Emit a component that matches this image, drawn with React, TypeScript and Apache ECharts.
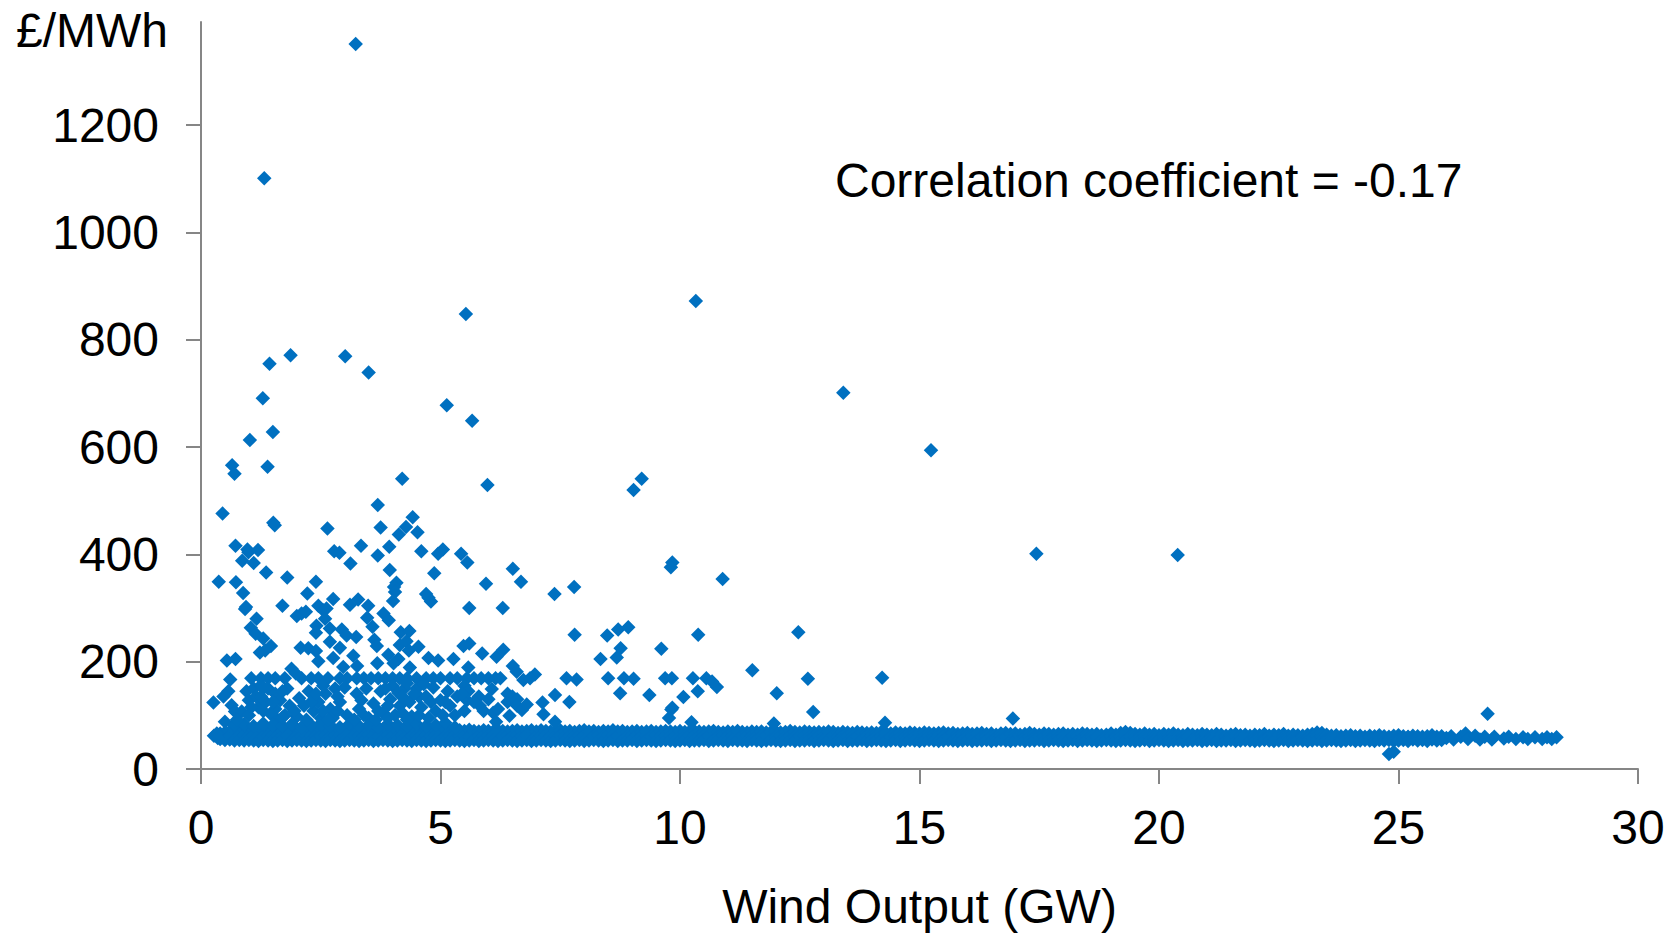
import React, { useEffect, useRef } from "react";
import * as echarts from "echarts";

const xTicks = [0, 5, 10, 15, 20, 25, 30];
const yTicks = [0, 200, 400, 600, 800, 1000, 1200];
const xTitle = "Wind Output (GW)";
const yTitle = "£/MWh";
const note = "Correlation coefficient = -0.17";

const highPrices: number[][] = [
  [3.23,1351],[1.32,1101],[10.33,872],[5.53,848],[1.87,771],[3.01,769],[1.43,755],[3.5,739],[1.29,691],[5.13,678],[5.66,649],[13.41,701],[15.24,594],[17.44,401],[20.39,399],[9.84,385],[9.81,376],[10.89,354],
  [12.47,255],[10.38,250],[9.61,224],[11.51,184],[12.02,141],[12.67,168],[12.78,106],[14.22,170],[14.28,86],[16.95,94],[26.86,103],[24.8,28],[24.9,32],
  [1.02,613],[1.5,628],[0.65,566],[0.7,550],[1.39,563],[0.45,476],[1.51,459],[1.54,454],[2.64,448],[4.2,541],[3.69,492],[3.75,450],[4.28,451],[4.42,469],[4.13,437],[4.52,441],[5.98,529],[9.03,520],[9.2,541],
  [0.72,416],[0.97,409],[0.99,404],[1.19,408],[0.86,388],[1.1,384],[1.36,366],[1.8,357],[0.37,349],[0.73,348],[0.88,328],[0.94,302],[0.92,298],[1.7,304],[2.4,349],[2.22,327],[2.76,317],
  [2.78,406],[2.89,403],[3.34,416],[3.12,383],[3.69,398],[3.93,414],[3.94,371],[4.08,347],[4.03,339],[4.05,330],[4.01,313],[4.6,406],[4.95,401],[5.05,409],[5.43,401],[5.56,385],[4.87,365],
  [6.51,373],[6.68,349],[5.95,345],[5.6,300],[6.3,300],[7.38,326],[7.79,339],[7.8,250],[8.48,249],[8.71,260],[8.92,264],[8.76,225],[8.68,208],[8.34,205],[4.7,326],[4.75,319],[4.8,312],
  [3.11,306],[3.28,316],[3.49,304],[3.47,282],[3.58,265],[3.81,290],[3.92,277],[2.45,304],[2.55,296],[2.62,299],[2.59,280],[2.69,262],[2.41,267],[2.4,254],[2.94,260],[3.04,249],[3.24,246],[2.69,237],[2.9,226],[2.76,207],[3.18,211],[2.97,190],[3.26,192],[3.68,197],
  [3.62,241],[3.67,229],[4.17,255],[4.35,257],[4.15,231],[4.29,238],[4.54,228],[4.34,221],[3.91,213],[4.12,205],[4.02,197],[4.36,189],[4.75,207],[4.95,202],[5.27,205],[5.48,229],[5.6,234],[5.87,215],[6.17,209],[6.31,222],[5.58,189],[6.51,192],[6.59,181],[6.97,176],[6.73,166],[6.87,169],
  [2.0,285],[2.1,290],[2.19,293],[2.08,226],[2.24,225],[2.4,220],[2.45,201],[1.89,187],[1.98,178],[1.16,280],[1.04,263],[1.14,252],[1.3,243],[1.46,229],[1.34,221],[1.23,217],[0.54,202],[0.72,205],[0.61,167],
  [7.63,169],[7.84,167],[8.5,169],[8.83,169],[9.03,168],[8.75,141],[7.39,138],[7.69,125],[7.13,124],[7.15,102],[7.39,88],[6.44,99],[6.07,149],[6.16,88],
  [9.69,169],[9.83,169],[10.27,169],[10.55,169],[10.67,163],[10.77,153],[10.37,145],[10.07,134],[9.36,138],[9.84,114],[9.82,111],[9.77,95],[10.24,87],[11.96,85],
];

const flatLine169: number[] = [1.05,1.25,1.4,1.55,1.75,2.1,2.3,2.45,2.65,2.9,3.05,3.25,3.4,3.55,3.7,3.85,4.0,4.15,4.3,4.5,4.7,4.85,5.0,5.2,5.35,5.55,5.7,5.85,6.0,6.15,6.25];

const lowCluster: number[][] = [
  [0.26,124],[0.47,135],[0.57,145],[0.5,88],[0.64,119],[0.71,107],[0.85,107],
  [0.95,145],[1.0,128],[1.1,150],[1.15,135],[1.25,156],[1.2,115],[1.35,125],[1.4,150],[1.45,103],[1.55,140],[1.65,128],[1.6,92],[1.8,150],[1.85,118],[1.75,100],
  [2.05,132],[2.15,118],[2.0,98],[2.25,145],[2.35,108],[2.45,125],[2.5,95],[2.6,140],[2.7,112],[2.8,150],[2.75,95],[2.9,125],[3.0,152],[3.05,100],[3.25,140],[3.3,112],[3.45,150],[3.5,95],
  [3.6,122],[3.75,145],[3.8,105],[3.95,130],[4.0,155],[4.05,100],[4.15,118],[4.12,142],[4.25,150],[4.35,125],[4.4,98],[4.5,150],[4.6,115],[4.55,135],[4.7,135],[4.85,152],[4.9,108],[5.0,128],
  [5.15,145],[5.2,118],[5.35,135],[5.5,155],[5.55,128],[5.5,108],[5.58,145],[5.8,135],[5.82,118],[5.9,108],[6.0,130],[6.1,105],[6.2,112],
  [6.4,140],[6.4,125],[6.5,135],[6.6,130],[6.6,118],[6.7,110],[6.8,120],
  [0.7,82],[0.9,84],[1.1,80],[1.3,85],[1.5,82],[1.7,80],[1.9,84],[2.1,78],[2.3,82],[2.5,85],[2.7,80],[2.9,78],[3.1,84],[3.3,80],[3.5,82],[3.7,78],[3.9,84],[4.1,82],[4.3,80],[4.5,84],[4.7,80],[4.9,82],[5.1,86],[5.3,78],
  [0.75,92],[1.0,100],[1.3,108],[1.55,112],[1.7,96],[1.95,108],[2.2,92],[2.3,125],[2.55,108],[2.65,92],[2.85,108],[3.2,92],[3.4,100],[3.65,92],[3.7,108],[3.9,95],[4.2,105],[4.3,92],[4.55,100],[4.75,95],[5.05,100],[5.3,100],
  [1.05,115],[1.25,135],[1.5,125],[1.3,150],[1.7,145],[2.4,140],[2.55,155],[2.85,135],[3.35,128],[3.85,150],[3.9,118],[4.2,135],[4.3,160],[4.45,140],[4.65,158],[4.8,125],[5.1,125],[5.45,140],[5.7,125],
];

const bandWind: number[] = [
  0.4,0.5,0.6,0.7,0.8,0.9,
  1.0,1.1,1.2,1.3,1.4,1.5,1.6,1.7,1.8,1.9,
  2.0,2.1,2.2,2.3,2.4,2.5,2.6,2.7,2.8,2.9,
  3.0,3.1,3.2,3.3,3.4,3.5,3.6,3.7,3.8,3.9,
  4.0,4.1,4.2,4.3,4.4,4.5,4.6,4.7,4.8,4.9,
  5.0,5.1,5.2,5.3,5.4,5.5,5.6,5.7,5.8,5.9,
  6.0,6.1,6.2,6.3,6.4,6.5,6.6,6.7,6.8,6.9,
  7.0,7.1,7.2,7.3,7.4,7.5,7.6,7.7,7.8,7.9,
  8.0,8.1,8.2,8.3,8.4,8.5,8.6,8.7,8.8,8.9,
  9.0,9.1,9.2,9.3,9.4,9.5,9.6,9.7,9.8,9.9,
  10.0,10.1,10.2,10.3,10.4,10.5,10.6,10.7,10.8,10.9,
  11.0,11.1,11.2,11.3,11.4,11.5,11.6,11.7,11.8,11.9,
  12.0,12.1,12.2,12.3,12.4,12.5,12.6,12.7,12.8,12.9,
  13.0,13.1,13.2,13.3,13.4,13.5,13.6,13.7,13.8,13.9,
  14.0,14.1,14.2,14.3,14.4,14.5,14.6,14.7,14.8,14.9,
  15.0,15.1,15.2,15.3,15.4,15.5,15.6,15.7,15.8,15.9,
  16.0,16.1,16.2,16.3,16.4,16.5,16.6,16.7,16.8,16.9,
  17.0,17.1,17.2,17.3,17.4,17.5,17.6,17.7,17.8,17.9,
  18.0,18.1,18.2,18.3,18.4,18.5,18.6,18.7,18.8,18.9,
  19.0,19.1,19.2,19.3,19.4,19.5,19.6,19.7,19.8,19.9,
  20.0,20.1,20.2,20.3,20.4,20.5,20.6,20.7,20.8,20.9,
  21.0,21.1,21.2,21.3,21.4,21.5,21.6,21.7,21.8,21.9,
  22.0,22.1,22.2,22.3,22.4,22.5,22.6,22.7,22.8,22.9,
  23.0,23.1,23.2,23.3,23.4,23.5,23.6,23.7,23.8,23.9,
  24.0,24.1,24.2,24.3,24.4,24.5,24.6,24.7,24.8,24.9,
  25.0,25.1,25.2,25.3,25.4,25.5,25.6,25.7,25.8,25.9,
];
const bandTop: number[] = [
  66,68,70,72,71,73,
  72,73,71,72,74,72,73,71,72,73,
  74,72,71,73,72,74,73,71,72,73,
  72,74,71,73,72,73,71,72,74,72,
  73,71,72,74,73,72,71,73,72,71,
  72,73,71,70,72,71,73,71,70,72,
  71,70,72,71,70,71,72,70,71,72,
  70,72,71,70,71,72,70,71,69,71,
  72,70,71,69,71,70,72,70,71,69,
  70,71,69,70,71,69,70,71,70,69,
  71,69,70,71,70,69,70,71,69,68,
  70,69,71,69,68,70,69,70,68,69,
  70,68,69,71,69,68,70,69,68,69,
  68,70,69,67,69,68,67,69,68,67,
  68,67,69,67,66,68,67,66,68,67,
  66,68,67,66,67,68,66,67,65,66,
  67,65,66,67,65,66,64,66,67,65,
  66,64,65,67,65,64,66,65,64,65,
  66,64,65,64,66,65,64,65,63,64,
  66,64,67,69,67,65,64,66,64,65,
  63,65,64,66,64,63,65,64,63,65,
  64,63,65,64,62,64,65,63,64,62,
  64,63,65,62,64,63,65,62,64,63,
  62,64,65,68,67,64,62,63,61,62,
  63,61,62,60,62,61,63,61,60,62,
  63,61,60,62,61,60,61,63,60,61,
];
const bandMid: number[] = [
  62,63,61,62,63,62,
  61,63,62,61,62,63,61,62,63,61,
  62,61,63,62,61,62,63,61,62,63,
  61,62,63,62,61,63,62,61,62,63,
  62,61,63,62,61,62,63,62,61,63,
  62,61,62,63,61,62,61,63,62,61,
  63,62,61,62,63,61,62,61,63,62,
  61,62,63,61,62,63,61,62,61,63,
  62,61,62,63,61,62,63,61,62,61,
  62,63,61,62,61,63,62,61,62,61,
  62,61,63,62,61,62,61,63,61,62,
  61,62,61,63,62,61,62,61,62,61,
  60,62,61,62,60,61,62,60,61,62,
  60,61,62,60,61,62,60,61,60,62,
  61,60,61,62,60,61,60,61,62,60,
  61,60,61,60,62,61,60,61,60,61,
  60,61,59,60,61,60,59,61,60,59,
  60,61,59,60,59,61,60,59,60,59,
  60,59,61,60,59,60,59,60,59,61,
  60,59,60,62,60,59,60,59,60,59,
  60,59,58,60,59,58,60,59,58,59,
  58,59,60,58,59,58,59,60,58,59,
  58,59,58,60,59,58,59,58,59,58,
  59,58,59,61,60,58,59,58,57,58,
  59,58,57,58,59,57,58,59,57,58,
  57,58,59,57,58,57,58,57,58,57,
];
const bandBottom: number[] = [
  56,54,55,53,54,53,
  54,53,52,54,53,52,53,54,52,53,
  54,53,52,53,54,53,52,54,53,52,
  53,54,53,52,53,54,52,53,54,53,
  52,53,54,53,52,54,53,52,53,54,
  53,52,53,54,53,52,53,54,52,53,
  54,53,52,53,54,53,52,53,54,52,
  53,54,53,52,53,54,53,52,53,54,
  52,53,54,53,52,53,54,52,53,53,
  54,52,53,54,53,52,53,54,53,52,
  53,54,52,53,53,54,52,53,54,53,
  52,54,53,53,52,54,53,52,53,54,
  53,52,53,54,52,53,53,54,52,53,
  54,53,52,53,54,52,53,53,54,52,
  53,54,53,52,53,54,52,53,54,53,
  52,53,54,53,52,53,54,53,52,53,
  54,52,53,53,54,52,53,54,53,52,
  53,54,52,53,53,54,52,53,54,53,
  52,53,54,52,53,54,53,52,53,54,
  53,52,53,54,53,52,53,54,52,53,
  54,53,52,53,54,52,53,53,54,52,
  53,54,52,53,53,54,52,53,54,53,
  52,53,54,53,52,53,54,52,53,54,
  53,52,53,54,52,53,54,53,52,53,
  54,52,53,54,53,52,54,53,54,52,
  53,54,52,55,53,54,52,55,53,54,
];
const tail: number[][] = [
  [26.0,58],[26.1,61],[26.15,55],[26.3,60],[26.4,66],[26.45,56],[26.6,62],[26.7,55],[26.8,60],[26.95,55],[27.0,60],[27.2,57],[27.3,60],[27.45,56],[27.6,59],[27.7,56],[27.85,59],[28.0,56],[28.1,59],[28.2,56],[28.3,59],
];
const leftEnd: number[][] = [[0.27,62],[0.33,66],[0.35,58]];

function buildPoints(): number[][] {
  const pts: number[][] = [];
  bandWind.forEach((w, i) => {
    pts.push([w, bandTop[i]], [w, bandMid[i]], [w, bandBottom[i]]);
  });
  flatLine169.forEach((w) => pts.push([w, 169]));
  return pts.concat(tail, leftEnd, lowCluster, highPrices);
}

export default function App() {
  const ref = useRef<HTMLDivElement>(null);
  useEffect(() => {
    document.body.style.margin = "0";
    const chart = echarts.init(ref.current!, undefined, { renderer: "svg" });
    const font = "Liberation Sans";
    const axisLine = { lineStyle: { color: "#868686", width: 2 } };
    chart.setOption({
      animation: false,
      backgroundColor: "#ffffff",
      grid: { left: 201, right: 37, top: 22, bottom: 164.5, containLabel: false },
      xAxis: {
        type: "value",
        min: 0,
        max: 30,
        interval: 5,
        splitLine: { show: false },
        axisLine: { ...axisLine, onZero: false },
        axisTick: { show: true, length: 15, lineStyle: { color: "#868686", width: 2 }, customValues: xTicks },
        axisLabel: { fontFamily: font, fontSize: 48, color: "#000", margin: 34, customValues: xTicks, hideOverlap: false, formatter: (v: number) => String(v) },
        name: xTitle,
        nameLocation: "middle",
        nameGap: 113,
        nameTextStyle: { fontFamily: font, fontSize: 48, color: "#000" },
      },
      yAxis: {
        type: "value",
        min: 0,
        max: 1392,
        interval: 200,
        splitLine: { show: false },
        axisLine: { ...axisLine, onZero: false },
        axisTick: { show: true, length: 15, lineStyle: { color: "#868686", width: 2 }, customValues: yTicks },
        axisLabel: { fontFamily: font, fontSize: 48, color: "#000", margin: 42, customValues: yTicks, hideOverlap: false, formatter: (v: number) => String(v) },
        name: yTitle,
        nameLocation: "end",
        nameGap: -8,
        nameTextStyle: { fontFamily: font, fontSize: 48, color: "#000", align: "right", verticalAlign: "middle", padding: [0, 33, 0, 0] },
      },
      graphic: [
        {
          type: "text",
          left: 835,
          top: 156,
          style: { text: note, fontFamily: font, fontSize: 48, fill: "#000" },
        },
      ],
      series: [
        {
          type: "scatter",
          symbol: "diamond",
          symbolSize: 14.5,
          clip: false,
          silent: true,
          itemStyle: { color: "#0070C0", opacity: 1 },
          data: buildPoints(),
        },
      ],
    });
    return () => chart.dispose();
  }, []);
  return <div ref={ref} style={{ position: "absolute", left: 0, top: 0, width: 1675, height: 935 }} />;
}
